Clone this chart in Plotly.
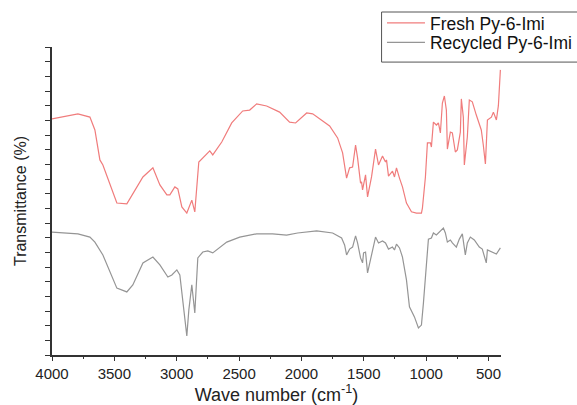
import plotly.graph_objects as go

# Fresh Py-6-Imi (wavenumber cm-1, transmittance a.u.)
fresh_wn = [4000, 3792, 3696, 3656, 3616, 3592, 3480, 3400, 3271, 3191, 3135, 3079, 3055, 3015,
            2991, 2959, 2919, 2879, 2855, 2823, 2735, 2711, 2639, 2559, 2471, 2415, 2359, 2279,
            2175, 2095, 2047, 1958, 1910, 1774, 1710, 1670, 1638, 1614, 1590, 1566, 1550, 1526,
            1518, 1510, 1486, 1470, 1438, 1406, 1382, 1350, 1326, 1318, 1302, 1270, 1254, 1238,
            1214, 1190, 1158, 1118, 1078, 1038, 1030, 1006, 990, 966, 958, 942, 918, 902, 886,
            870, 854, 838, 830, 806, 790, 766, 750, 726, 718, 702, 694, 670, 654, 630, 598, 566,
            558, 542, 525, 509, 477, 461, 437, 421, 413, 405]
fresh_t = [80.5, 82.2, 81.1, 76.7, 66.5, 64.8, 51.8, 51.5, 60.7, 63.8, 58.0, 54.6, 54.6, 57.3,
           56.6, 50.5, 48.4, 52.8, 48.8, 65.8, 69.6, 68.2, 72.6, 79.1, 83.2, 83.5, 85.6, 84.9,
           82.8, 79.4, 79.1, 82.5, 82.2, 78.1, 74.0, 68.9, 60.3, 63.8, 64.1, 71.6, 67.2, 58.6,
           59.0, 56.3, 61.4, 53.9, 60.7, 70.2, 64.8, 67.8, 65.8, 66.5, 61.0, 62.7, 60.7, 63.8,
           60.3, 57.3, 51.8, 48.8, 48.4, 48.4, 50.1, 60.7, 72.3, 72.3, 70.9, 79.4, 78.4, 79.1, 75.7,
           85.9, 88.3, 83.5, 70.2, 76.0, 75.7, 69.2, 69.9, 76.0, 87.3, 81.1, 64.8, 74.3, 86.9, 86.3,
           81.8, 77.7, 76.7, 71.6, 65.1, 80.1, 81.1, 82.8, 80.1, 85.0, 91.4, 97.2]

# Recycled Py-6-Imi
rec_wn = [4000, 3792, 3696, 3656, 3592, 3480, 3400, 3352, 3271, 3191, 3135, 3071, 3039, 2999,
          2975, 2951, 2919, 2903, 2879, 2855, 2831, 2791, 2751, 2711, 2599, 2495, 2359, 2231,
          2119, 2031, 1878, 1750, 1678, 1654, 1638, 1614, 1590, 1566, 1550, 1526, 1510, 1502,
          1486, 1470, 1438, 1406, 1382, 1350, 1326, 1302, 1270, 1254, 1238, 1214, 1190, 1158,
          1134, 1094, 1062, 1038, 1022, 998, 982, 958, 942, 918, 902, 878, 862, 846, 830, 806,
          790, 758, 734, 710, 702, 686, 670, 646, 614, 574, 550, 534, 518, 509, 477, 437, 405]
rec_t = [41.9, 41.3, 40.2, 38.5, 34.1, 22.8, 21.5, 23.9, 31.4, 33.4, 30.7, 26.6, 27.3, 29.0,
         27.3, 18.8, 6.5, 15.3, 23.9, 14.3, 33.1, 35.1, 35.5, 34.8, 38.5, 40.2, 41.3, 41.3,
         40.9, 41.6, 42.3, 41.6, 39.9, 37.5, 34.1, 36.1, 36.8, 40.6, 38.2, 33.1, 31.4, 34.8,
         35.1, 28.0, 34.1, 40.2, 38.2, 38.9, 38.2, 36.1, 36.8, 35.8, 37.8, 36.5, 33.4, 25.6,
         16.4, 13.0, 9.2, 10.2, 17.7, 33.1, 39.5, 39.9, 41.6, 40.9, 41.6, 42.6, 43.3, 41.6, 38.5,
         39.2, 38.2, 36.8, 39.5, 41.3, 39.2, 34.1, 38.2, 40.2, 39.2, 36.8, 36.1, 33.4, 31.4,
         35.8, 35.1, 34.4, 36.5]

x_ticks = [4000, 3500, 3000, 2500, 2000, 1500, 1000, 500]

FONT = "Arial, Liberation Sans, sans-serif"
LEG_FONT = dict(size=17.5, family=FONT, color="#111111")

fig = go.Figure()
fig.add_trace(go.Scatter(x=fresh_wn, y=fresh_t, mode="lines", name="Fresh Py-6-Imi",
                         line=dict(color="#f07c7c", width=1.2), legend="legend"))
fig.add_trace(go.Scatter(x=rec_wn, y=rec_t, mode="lines", name="Recycled Py-6-Imi",
                         line=dict(color="#959595", width=1.2), legend="legend2"))

# legend frame (extends beyond the right edge as in the reference)
fig.add_shape(type="rect", xref="paper", yref="paper", x0=0.734, x1=1.3, y0=0.951, y1=1.1136,
              line=dict(color="#555555", width=1), fillcolor="rgba(0,0,0,0)", layer="above")

leg_common = dict(x=0.662, xref="container", yref="container", xanchor="left", yanchor="top",
                  bgcolor="rgba(0,0,0,0)", borderwidth=0, font=LEG_FONT, itemwidth=38)

fig.update_layout(
    width=577, height=405,
    margin=dict(l=52, r=75.5, t=47, b=50, autoexpand=False),
    paper_bgcolor="white", plot_bgcolor="white",
    font=dict(family=FONT, color="#222222"),
    showlegend=True,
    legend=dict(y=0.9877, **leg_common),
    legend2=dict(y=0.9395, **leg_common),
    xaxis=dict(range=[4000, 400], tickvals=x_ticks, ticks="outside", ticklen=4,
               tickwidth=1, tickcolor="#333333",
               minor=dict(dtick=250, tick0=0, ticks="outside", ticklen=2.5, tickcolor="#333333"),
               showline=True, linecolor="#333333", linewidth=1.5, showgrid=False, zeroline=False,
               tickfont=dict(size=15, family=FONT, color="#222222"),
               title=dict(text="Wave number (cm<sup>-1</sup>)", font=dict(size=18, family=FONT),
                          standoff=20)),
    yaxis=dict(range=[0, 105], dtick=5, tick0=0, ticks="outside", ticklen=5, tickwidth=1,
               tickcolor="#333333", showticklabels=False,
               showline=True, linecolor="#333333", linewidth=1.5, showgrid=False, zeroline=False,
               title=dict(text="Transmittance (%)", font=dict(size=16, family=FONT),
                          standoff=15)),
)

fig.write_html("out.html")
